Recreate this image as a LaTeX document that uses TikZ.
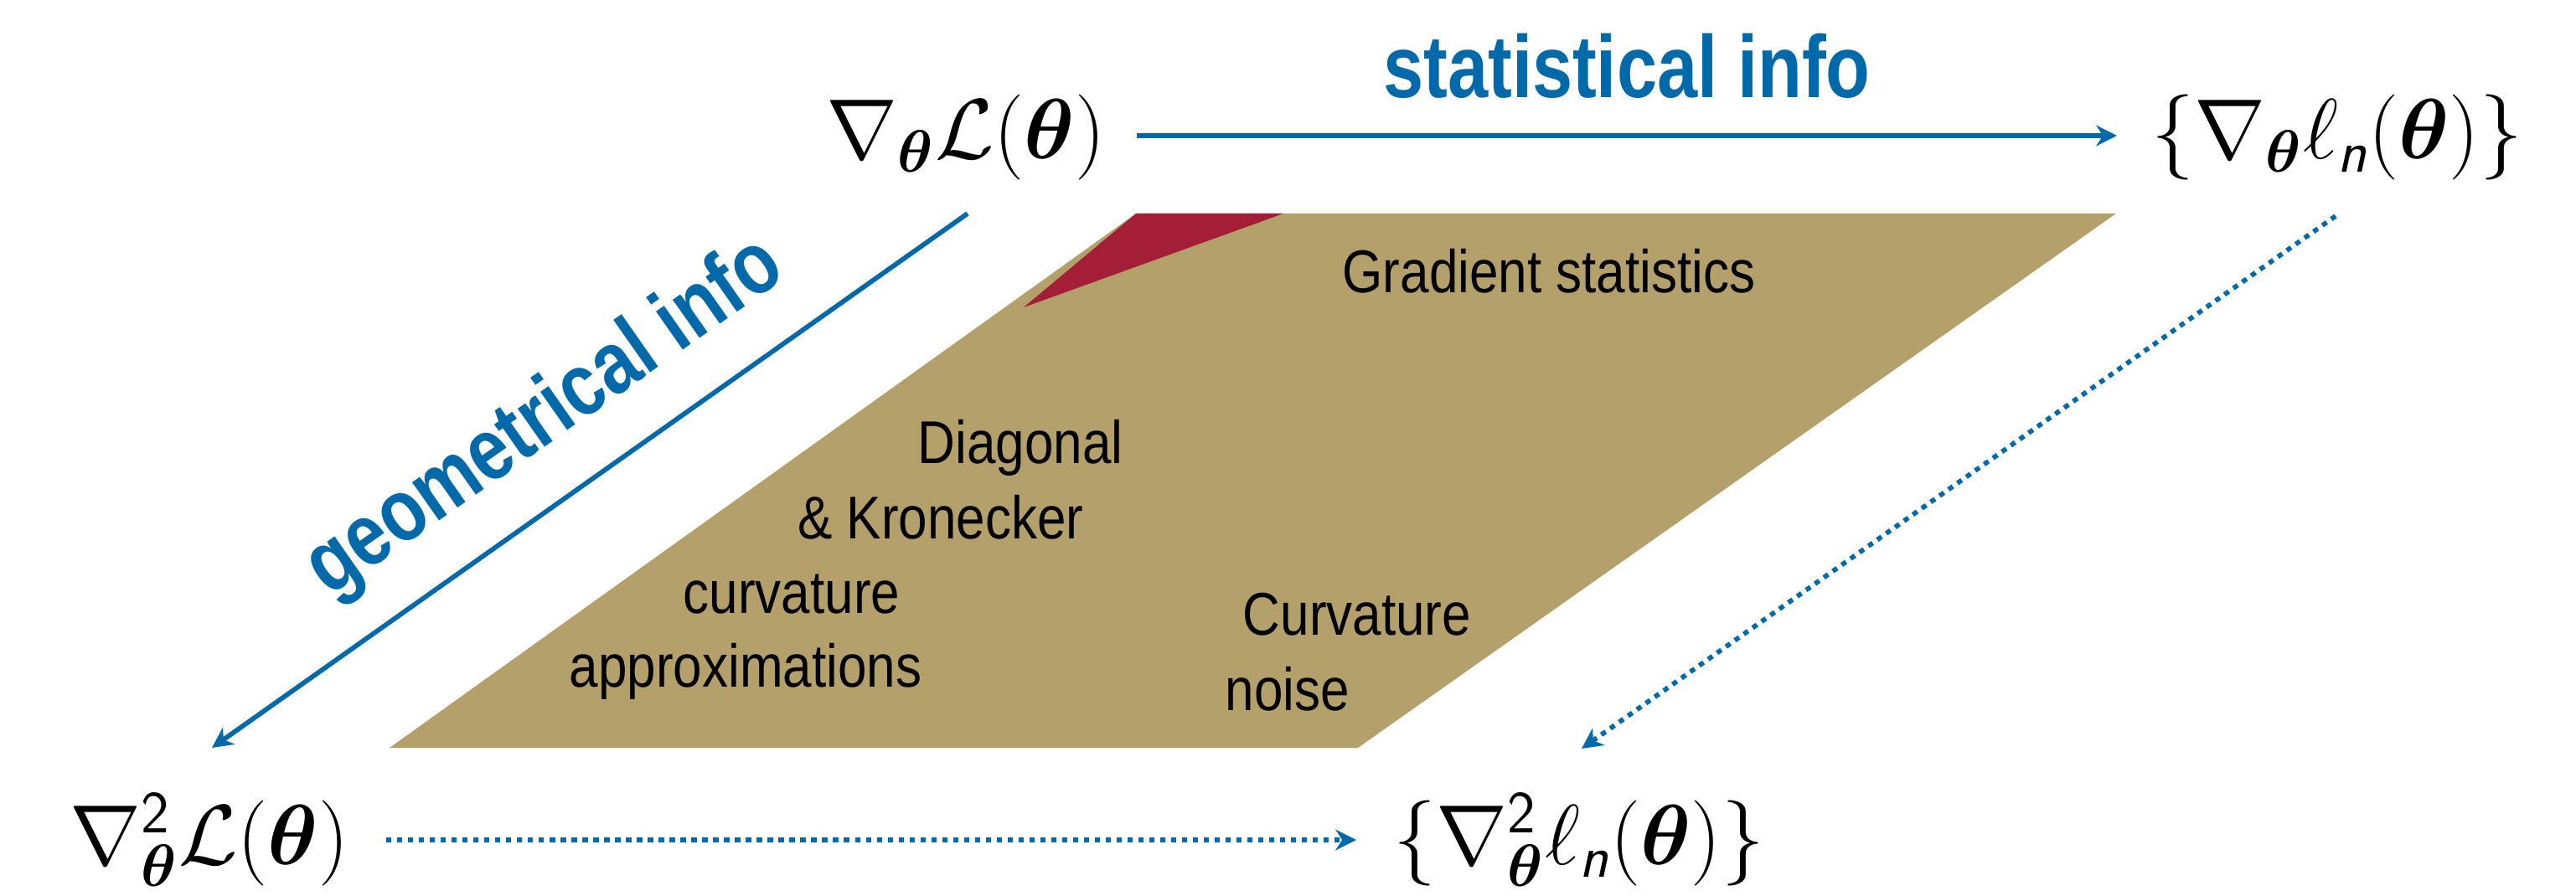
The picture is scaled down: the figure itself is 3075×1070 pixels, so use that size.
\RequirePackage{fix-cm}
\documentclass[tikz,border=0pt]{standalone}
\usepackage{amsmath}
\usepackage{bm}
\usepackage{fontspec}
\usetikzlibrary{arrows.meta}
\newfontfamily\bodyfont[FakeStretch=0.86]{Liberation Sans}
\newfontfamily\labelfont[FakeStretch=0.82]{Liberation Sans}
\definecolor{tumblue}{RGB}{0,105,170}
\definecolor{khaki}{RGB}{179,160,106}
\definecolor{wine}{RGB}{165,30,56}
\newcommand{\mysf}[1]{\text{\normalfont\sffamily #1}}
\newcommand{\mysfit}[1]{\text{\normalfont\sffamily\itshape #1}}
\tikzset{
  mathnode/.style={anchor=base, inner sep=0pt, font=\fontsize{29}{34}\selectfont},
  bodytext/.style={anchor=base, inner sep=0pt, font=\bodyfont\fontsize{20.5}{24}\selectfont},
  infolabel/.style={anchor=base, inner sep=0pt, text=tumblue, font=\labelfont\bfseries\fontsize{30}{36}\selectfont},
  conn/.style={draw=tumblue, line width=1.62pt, -{Stealth[length=7pt,width=7pt,inset=2.2pt]}},
  dotconn/.style={conn, dash pattern=on 1.8pt off 1.9pt}
}
\begin{document}
\begin{tikzpicture}[x=0.01cm, y=-0.01cm]
\useasboundingbox (0,0) rectangle (3075,1070);
% plane
\fill[khaki] (465,893) -- (1621,893) -- (2526,255) -- (1356,255) -- cycle;
\fill[wine] (1356,255) -- (1532,255) -- (1222,367) -- cycle;
% math nodes
\node[mathnode] (tl) at (1153,190) {$\nabla_{\bm{\theta}}\mathcal{L}(\bm{\theta})$};
\node[mathnode] (tr) at (2790,190) {$\{\nabla_{\bm{\theta}}\ell_{\mysfit{n}}(\bm{\theta})\}$};
\node[mathnode] (bl) at (250,1032) {$\nabla^{\mysf{2}}_{\bm{\theta}}\mathcal{L}(\bm{\theta})$};
\node[mathnode] (br) at (1885,1032) {$\{\nabla^{\mysf{2}}_{\bm{\theta}}\ell_{\mysfit{n}}(\bm{\theta})\}$};
% connector end points
\coordinate (sA) at (1357,162);
\coordinate (sB) at (2527,162);
\coordinate (gA) at (1155,255);
\coordinate (gB) at (253,893);
\coordinate (dA) at (2788,258);
\coordinate (dB) at (1888,894);
\coordinate (hA) at (461,1003);
\coordinate (hB) at (1619,1003);
\draw[conn] (sA) -- (sB);
\draw[conn] (gA) -- (gB);
\draw[dotconn] (dA) -- (dB);
\draw[dotconn] (hA) -- (hB);
% labels
\node[infolabel] (stat) at (1942,117) {statistical info};
\node[infolabel, rotate=35] (geom) at (667,522) {geometrical info};
% plane texts
\node[bodytext] (grad) at (1849,350) {Gradient statistics};
\node[bodytext] (diag) at (1218,553) {Diagonal};
\node[bodytext] (kron) at (1123,643) {\& Kronecker};
\node[bodytext] (curv) at (945,732) {curvature};
\node[bodytext] (appr) at (890,820) {approximations};
\node[bodytext] (curvn) at (1620,758) {Curvature};
\node[bodytext] (noise) at (1537,848) {noise};
\end{tikzpicture}
\end{document}
